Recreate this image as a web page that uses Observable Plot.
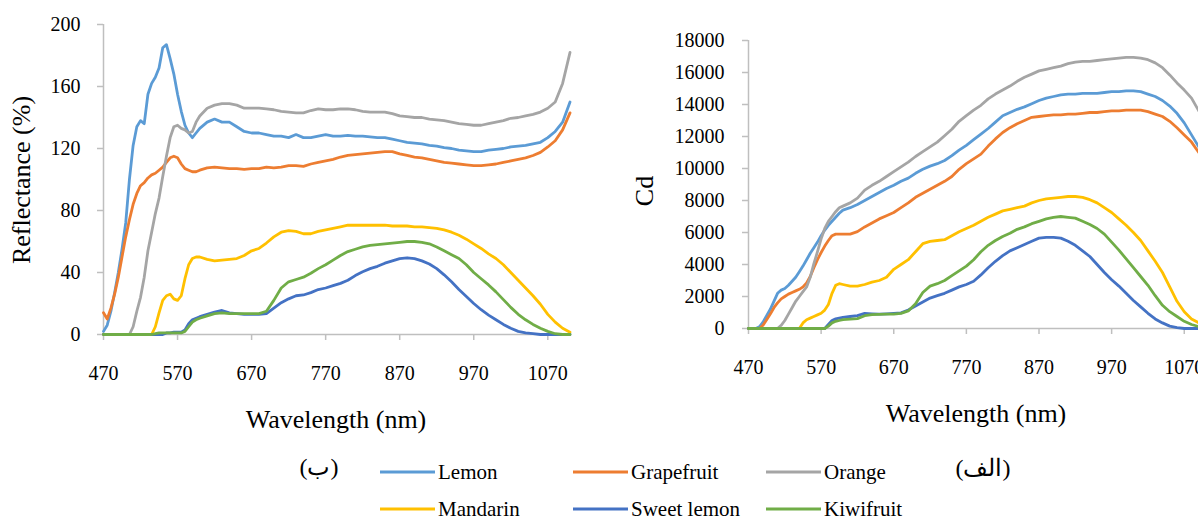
<!DOCTYPE html>
<html>
<head>
<meta charset="utf-8">
<script src="https://cdn.jsdelivr.net/npm/d3@7"></script>
<script src="https://cdn.jsdelivr.net/npm/@observablehq/plot@0.6"></script>
<style>
  html, body { margin: 0; padding: 0; background: #fff; }
  body { width: 1198px; height: 521px; overflow: hidden; position: relative; font-family: "Liberation Serif", "Times New Roman", serif; }
  #left { position: absolute; left: 0; top: 0; width: 600px; height: 390px; }
  #right { position: absolute; left: 600px; top: 0; width: 620px; height: 390px; }
  #left svg, #right svg { max-width: none !important; }
  #overlay { position: absolute; left: 0; top: 0; }
</style>
</head>
<body>
<div id="left"></div>
<div id="right"></div>
<svg id="overlay" width="1198" height="521"></svg>
<script>
const wavelengths = [470,475,480,485,490,495,500,505,510,515,520,525,530,535,540,545,550,555,560,565,570,575,580,585,590,595,600,
  610,620,630,640,650,660,670,680,690,700,
  710,720,730,740,750,760,770,780,790,800,
  810,820,830,840,850,860,870,880,890,900,
  910,920,930,940,950,960,970,980,990,1000,
  1010,1020,1030,1040,1050,1060,1070,1080,1090,1100];

const seriesNames = ["Lemon", "Grapefruit", "Orange", "Mandarin", "Sweet lemon", "Kiwifruit"];
const seriesColors = ["#5B9BD5", "#ED7D31", "#A5A5A5", "#FFC000", "#4472C4", "#70AD47"];

const xTicks = [470, 570, 670, 770, 870, 970, 1070];
const reflTicks = [0, 40, 80, 120, 160, 200];
const cdTicks = [0, 2000, 4000, 6000, 8000, 10000, 12000, 14000, 16000, 18000];

// Panel (ب): Reflectance (%)
const reflLemon = [2,6,15,27,40,55,72,100,122,134,138,136,155,162,166,172,185,187,178,168,155,144,135,130,127,130,133,
  137,139,137,137,134,131,130,130,129,128,
  128,127,129,127,127,128,129,128,128,128.5,
  128,128,127.5,127,127,126,125,124,123.5,123,
  122,121.5,120.5,120,119,118.5,118,118,119,119.5,
  120,121,121.5,122,123,124,127,131,137,150];
const reflGrapefruit = [14,10,17,26,37,50,63,74,84,91,96,98,101,103,104,106,108,111,114,115,114,110,107,106,105,105,106,
  107.5,108,107.5,107,107,106.5,107,107,108,107.5,
  108,109,109,108.5,110,111,112,113,114.5,115.5,
  116,116.5,117,117.5,118,118,116.5,115.5,114.5,114,
  113,112,111,110.5,110,109.5,109,109,109.5,110,
  111,112,113,114,115.5,117.5,121,125,132,143];
const reflOrange = [0,0,0,0,0,0,0,0,5,15,24,37,54,66,78,88,102,115,127,134,135,133,132,130,131,137,141,
  146,148,149,149,148,146,146,146,145.5,145,
  144,143.5,143,143,144.5,145.5,145,145,145.5,145.5,
  145,144,143.5,143.5,143.5,142.5,141,140.5,140,140,
  139,138.5,138,137,136,135.5,135,135,136,137,
  138,139.5,140,141,142,143.5,146,150,162,182];
const reflMandarin = [0,0,0,0,0,0,0,0,0,0,0,0,0,0,5,14,22,25,26,23,22,25,36,45,49,50,50,
  48.5,47.5,48,48.5,49,51,54,55.5,59,63,
  66,67,66.5,65,65,66.5,67.5,68.5,69.5,70.5,
  70.5,70.5,70.5,70.5,70.5,70,70,70,69.5,69.5,
  69,68.5,67.5,66,64,61.5,58.5,55.5,52,49,
  45,40,35,30,25,19.5,13,8,4,1.5];
const reflSweetLemon = [0,0,0,0,0,0,0,0,0,0,0,0,0,0,0,0,0,1,1,1.5,1.5,1.5,3,7,9.5,10.5,11.5,
  13,14.5,15.5,14,13.5,13,13,13,13.5,17,
  20.5,23,25,25.5,27,29,30,31.5,33,35,
  38,40.5,42.5,44,46,47.5,49,49.5,49,47.5,
  45.5,42.5,38.5,34,29,24.5,20,16,12.5,9.5,
  6.5,4,2,1,0.5,0,0,0,0,0];
const reflKiwifruit = [0,0,0,0,0,0,0,0,0,0,0,0,0,0,0.5,1,1,1,1,1,1,1,2,5,8,9.5,10.5,
  12,13.5,14,13.5,13.5,13.5,13.5,13.5,15,22,
  30,34,35.5,37,39.5,42.5,45,48,51,53.5,
  55,56.5,57.5,58,58.5,59,59.5,60,60,59.5,
  58.5,56.5,54,51.5,49,45,40,36,32,27.5,
  22.5,17.5,13,9.5,6.5,4,2,0.5,0,0];

// Panel (الف): Cd
const cdLemon = [0,0,0,100,400,800,1200,1700,2200,2400,2500,2700,2950,3200,3550,3900,4300,4700,5050,5400,5800,6150,6450,6700,6950,7200,7400,
  7550,7750,8000,8250,8500,8750,8950,9200,9400,9700,
  9950,10150,10300,10500,10800,11150,11450,11800,12150,12500,
  12900,13300,13500,13700,13850,14050,14250,14400,14500,14600,
  14650,14650,14700,14700,14700,14750,14800,14800,14850,14850,
  14800,14650,14500,14250,13900,13450,12850,12100,11350,10500];
const cdGrapefruit = [0,0,0,0,200,550,900,1300,1600,1850,2000,2150,2250,2350,2450,2600,2850,3250,3800,4300,4750,5150,5500,5800,5900,5900,5900,
  5900,6050,6350,6600,6850,7050,7250,7550,7850,8200,
  8450,8700,8950,9200,9500,9950,10300,10600,10900,11400,
  11850,12250,12550,12800,13000,13200,13250,13300,13350,13350,
  13400,13400,13450,13500,13500,13550,13600,13600,13650,13650,
  13650,13550,13400,13250,12950,12550,12100,11650,11000,10300];
const cdOrange = [0,0,0,0,0,0,0,0,0,200,500,900,1300,1700,2000,2300,2600,3200,4050,4800,5600,6250,6700,7000,7300,7550,7650,
  7850,8150,8650,8950,9200,9500,9800,10100,10400,10750,
  11050,11350,11650,12050,12450,12950,13300,13650,13950,14350,
  14650,14900,15150,15450,15700,15900,16100,16200,16300,16400,
  16550,16650,16700,16700,16750,16800,16850,16900,16950,16950,
  16900,16800,16600,16300,15850,15350,14900,14400,13600,12900];
const cdMandarin = [0,0,0,0,0,0,0,0,0,0,0,0,0,0,0,350,550,650,750,850,950,1150,1500,2200,2700,2800,2750,
  2650,2650,2750,2900,3000,3200,3700,4000,4300,4800,
  5300,5450,5500,5550,5800,6050,6250,6450,6700,6950,
  7150,7350,7450,7550,7650,7850,8000,8100,8150,8200,
  8250,8250,8200,8050,7850,7550,7250,6850,6450,6000,
  5500,4850,4200,3500,2600,1700,1050,600,350,200];
const cdSweetLemon = [0,0,0,0,0,0,0,0,0,0,0,0,0,0,0,0,0,0,0,0,0,0,250,500,600,650,700,
  750,800,950,920,900,920,950,980,1150,1400,
  1650,1900,2050,2200,2400,2600,2750,2950,3350,3800,
  4200,4550,4850,5050,5250,5450,5650,5700,5700,5650,
  5450,5200,4850,4500,4000,3500,3050,2650,2200,1750,
  1350,950,600,350,150,50,0,0,0,0];
const cdKiwifruit = [0,0,0,0,0,0,0,0,0,0,0,0,0,0,0,0,0,0,0,0,0,0,150,350,450,500,550,
  580,620,800,870,880,900,900,950,1100,1550,
  2250,2650,2800,3000,3300,3600,3900,4300,4800,5200,
  5500,5750,5950,6200,6350,6550,6700,6850,6950,7000,
  6950,6900,6700,6500,6250,5900,5400,4900,4350,3800,
  3250,2700,2050,1450,1050,750,450,250,120,50];

const reflSeries = [reflLemon, reflGrapefruit, reflOrange, reflMandarin, reflSweetLemon, reflKiwifruit];
const cdSeries = [cdLemon, cdGrapefruit, cdOrange, cdMandarin, cdSweetLemon, cdKiwifruit];

const axisGrey = "#bfbfbf";
const fontFamily = "'Liberation Serif', 'Times New Roman', serif";

function buildRows(seriesValues) {
  return seriesValues.map((vals, i) => wavelengths.map((w, j) => ({wl: w, v: vals[j], name: seriesNames[i]})));
}

function panel({seriesValues, yDomain, yTicks, width, height, marginLeft, marginRight, marginTop, marginBottom, yPad}) {
  const rows = buildRows(seriesValues);
  const svg = Plot.plot({
    width, height, marginLeft, marginRight, marginTop, marginBottom,
    style: {fontFamily, fontSize: "20px", color: "#000", background: "transparent", overflow: "visible"},
    x: {domain: [470, 1102]},
    y: {domain: yDomain},
    marks: [
      Plot.ruleY([yDomain[0]], {stroke: axisGrey, strokeWidth: 1.5}),
      Plot.ruleX([470], {stroke: axisGrey, strokeWidth: 1.5}),
      Plot.axisY({ticks: yTicks, tickSize: 6, tickPadding: yPad, stroke: axisGrey, strokeWidth: 1.5, fill: "#000", fontSize: 20, tickFormat: d => String(d), label: null}),
      Plot.axisX({ticks: xTicks, tickSize: 6, tickPadding: 25, stroke: axisGrey, strokeWidth: 1.5, fill: "#000", fontSize: 20, tickFormat: d => String(d), label: null}),
      ...rows.map((r, i) => Plot.line(r, {x: "wl", y: "v", stroke: seriesColors[i], strokeWidth: 2.8, strokeLinejoin: "round"}))
    ]
  });
  svg.style.maxWidth = "none";
  return svg;
}

document.getElementById("left").append(panel({
  seriesValues: reflSeries, yDomain: [0, 200], yTicks: reflTicks,
  width: 600, height: 390, marginLeft: 103, marginRight: 29, marginTop: 24, marginBottom: 56, yPad: 17
}));

document.getElementById("right").append(panel({
  seriesValues: cdSeries, yDomain: [0, 18000], yTicks: cdTicks,
  width: 620, height: 390, marginLeft: 148, marginRight: 13, marginTop: 40, marginBottom: 62, yPad: 18
}));

// Titles, panel labels and legend
const ov = d3.select("#overlay").style("font-family", fontFamily);
ov.append("text").attr("x", 336).attr("y", 428).attr("text-anchor", "middle").attr("font-size", 26).text("Wavelength (nm)");
ov.append("text").attr("x", 976).attr("y", 422).attr("text-anchor", "middle").attr("font-size", 26).text("Wavelength (nm)");
ov.append("text").attr("transform", "translate(21,180) rotate(-90)").attr("dy", "0.35em").attr("text-anchor", "middle").attr("font-size", 26).text("Reflectance (%)");
ov.append("text").attr("transform", "translate(644,191) rotate(-90)").attr("dy", "0.35em").attr("text-anchor", "middle").attr("font-size", 26).text("Cd");
ov.append("text").attr("x", 319).attr("y", 467).attr("dy", "0.35em").attr("text-anchor", "middle").attr("font-size", 24).attr("direction", "rtl").text("(ب)");
ov.append("text").attr("x", 983).attr("y", 468).attr("dy", "0.35em").attr("text-anchor", "middle").attr("font-size", 24).attr("direction", "rtl").text("(الف)");

const legendCols = [380, 573, 766];
const legendRows = [472, 509];
seriesNames.forEach((name, i) => {
  const x = legendCols[i % 3], y = legendRows[Math.floor(i / 3)];
  ov.append("line").attr("x1", x).attr("x2", x + 55).attr("y1", y).attr("y2", y)
    .attr("stroke", seriesColors[i]).attr("stroke-width", 3.2);
  ov.append("text").attr("x", x + 58).attr("y", y).attr("dy", "0.32em").attr("font-size", 21).attr("fill", "#000").text(name);
});
</script>
</body>
</html>
